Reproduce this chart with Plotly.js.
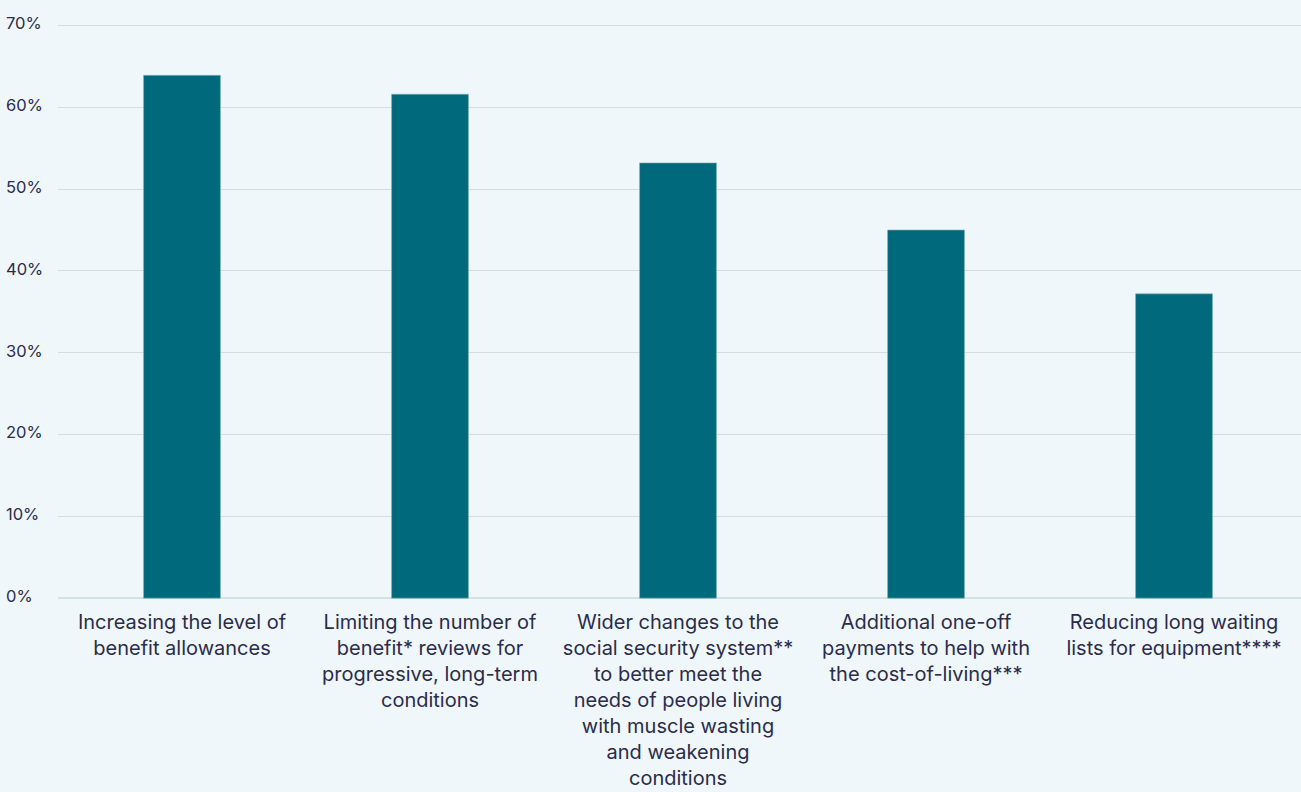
<!DOCTYPE html>
<html>
<head>
<meta charset="utf-8">
<script src="https://cdn.plot.ly/plotly-3.0.1.min.js"></script>
<style>html,body{margin:0;padding:0;background:#f0f7fa;}#chart{width:1301px;height:792px;}</style>
</head>
<body>
<div id="chart"></div>
<script>
const categories = [
  "Increasing the level of<br>benefit allowances",
  "Limiting the number of<br>benefit* reviews for<br>progressive, long-term<br>conditions",
  "Wider changes to the<br>social security system**<br>to better meet the<br>needs of people living<br>with muscle wasting<br>and weakening<br>conditions",
  "Additional one-off<br>payments to help with<br>the cost-of-living***",
  "Reducing long waiting<br>lists for equipment****"
];
const values = [63.9, 61.6, 53.2, 45.0, 37.2];
const yTicks = [0, 10, 20, 30, 40, 50, 60, 70];

const textColor = "#2a2c4a";
const fontFamily = "Inter, 'Open Sans', sans-serif";

const trace = {
  type: "bar",
  x: categories,
  y: values,
  width: 0.31,
  marker: { color: "#01697c", line: { color: "#7fb3be", width: 0.6 } },
  hoverinfo: "none"
};

const layout = {
  width: 1301,
  height: 792,
  paper_bgcolor: "#f0f7fa",
  plot_bgcolor: "#f0f7fa",
  margin: { l: 2, r: 0, t: 4.5, b: 183.5 },
  showlegend: false,
  font: { family: fontFamily, color: textColor },
  xaxis: {
    domain: [56 / 1299, 1],
    range: [-0.5, 4.512],
    tickfont: { size: 20, color: textColor, family: fontFamily },
    ticks: "",
    showgrid: false,
    showline: false,
    zeroline: false,
    ticklabelstandoff: 0,
    fixedrange: true
  },
  yaxis: {
    anchor: "free",
    position: 0,
    range: [-1.2, 72.5],
    tickvals: yTicks,
    ticktext: yTicks.map(v => v + "%"),
    ticklabelposition: "inside",
    ticklabelshift: -2,
    tickfont: { size: 16.5, color: textColor, family: fontFamily },
    ticks: "",
    showgrid: true,
    gridcolor: "#d3dee2",
    gridwidth: 1,
    zeroline: true,
    zerolinecolor: "#d6e2e2",
    zerolinewidth: 2,
    showline: false,
    fixedrange: true
  }
};

Plotly.newPlot("chart", [trace], layout, { staticPlot: true, displayModeBar: false });
</script>
</body>
</html>
